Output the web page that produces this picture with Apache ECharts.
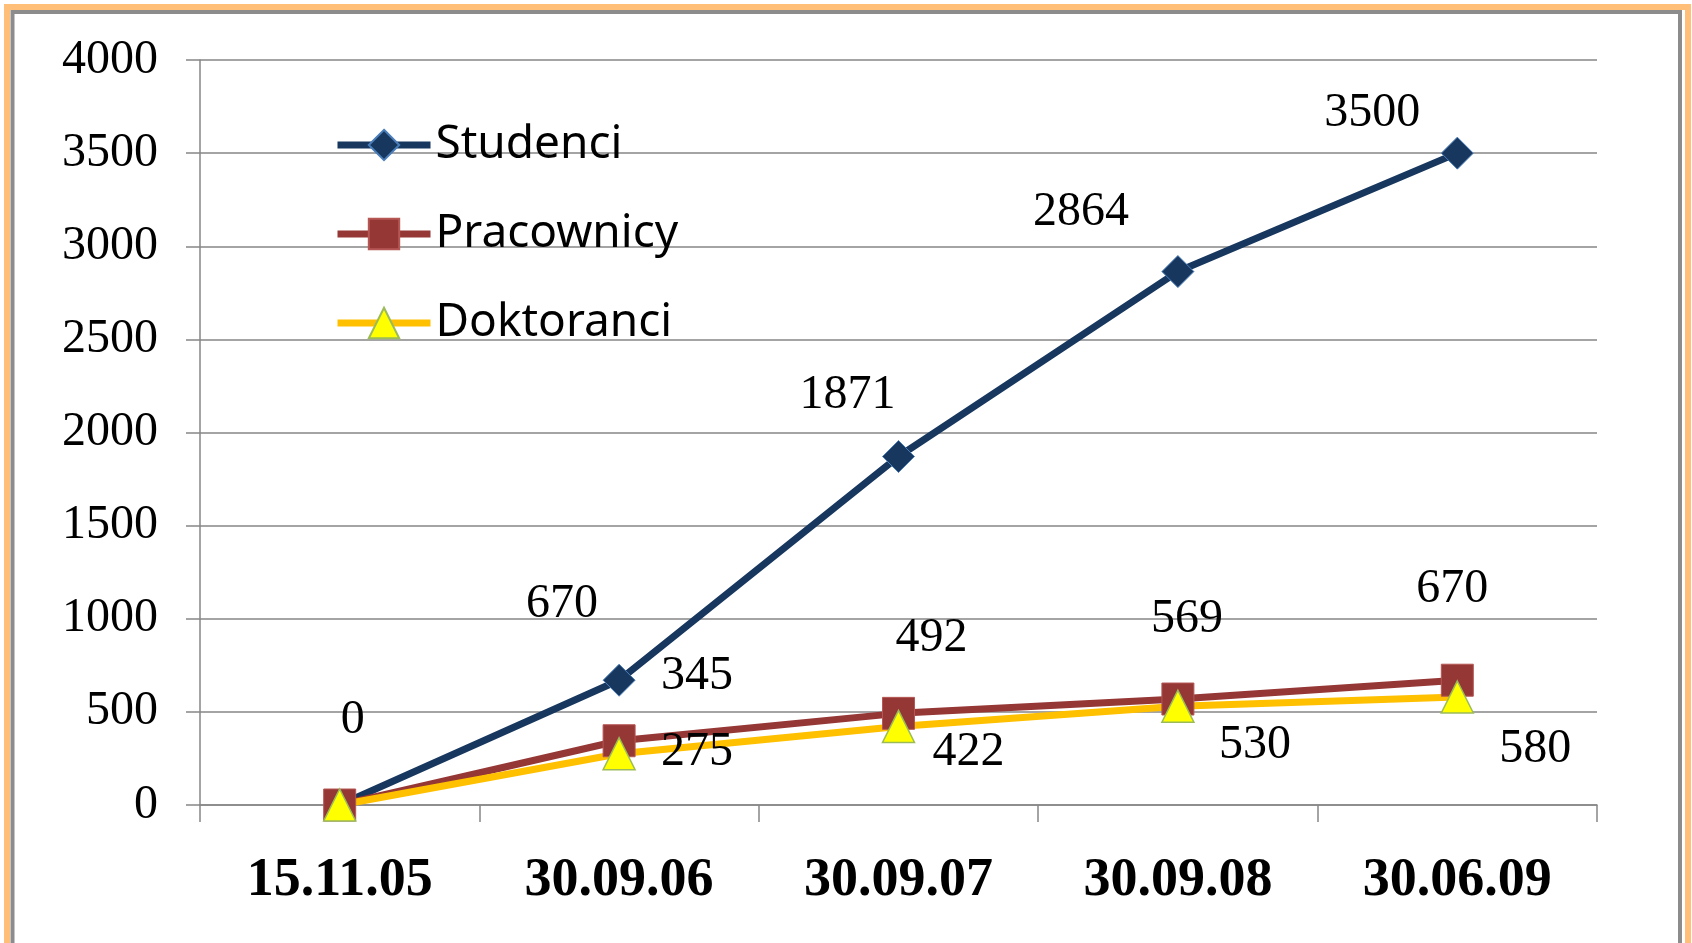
<!DOCTYPE html>
<html>
<head>
<meta charset="utf-8">
<script src="https://cdn.jsdelivr.net/npm/echarts@6/dist/echarts.min.js"></script>
<style>
html,body{margin:0;padding:0;background:#fff;}
#chart{width:1692px;height:943px;}
</style>
</head>
<body>
<div id="chart"></div>
<script>
const categories = ['15.11.05', '30.09.06', '30.09.07', '30.09.08', '30.06.09'];
const studenci = [0, 670, 1871, 2864, 3500];
const pracownicy = [0, 345, 492, 569, 670];
const doktoranci = [0, 275, 422, 530, 580];
const yTicks = [0, 500, 1000, 1500, 2000, 2500, 3000, 3500, 4000];

// label offsets (layout only)
const offStud = [[13,-85],[-57,-76],[-51,-61],[-97,-59],[-85,-40]];
const offPrac = [null,[78,-64],[33,-75],[9,-80],[-5,-91]];
const offDokt = [null,[78,-1],[70,26],[77,39],[78,52]];

const serif = '"Liberation Serif", "Times New Roman", serif';
const labelBase = {fontFamily: serif, fontSize: 48, color: '#000'};

function mk(values, offs) {
  return values.map((v, i) => {
    const o = offs[i];
    if (!o) return {value: v, label: {show: false}};
    return {value: v, label: Object.assign({show: true, position: 'inside', offset: o, formatter: '{c}'}, labelBase)};
  });
}

const chart = echarts.init(document.getElementById('chart'));
chart.setOption({
  animation: false,
  backgroundColor: '#fff',
  graphic: [
    {type: 'rect', shape: {x: 7, y: 7, width: 1681, height: 1000}, style: {fill: null, stroke: '#FFBF78', lineWidth: 6}, silent: true},
    {type: 'rect', shape: {x: 12.5, y: 12, width: 1667.5, height: 1000}, style: {fill: null, stroke: '#8C8C8C', lineWidth: 4}, silent: true}
  ],
  legend: {
    orient: 'vertical',
    left: 329,
    top: 117,
    itemWidth: 93,
    itemHeight: 38,
    itemGap: 43,
    lineStyle: {width: 7},
    textStyle: {fontFamily: '"Noto Sans", "Open Sans", sans-serif', fontSize: 46, color: '#000', lineHeight: 38},
    data: ['Studenci', 'Pracownicy', 'Doktoranci']
  },
  grid: {left: 200, right: 95, top: 60, bottom: 138},
  xAxis: {
    type: 'category',
    data: categories,
    boundaryGap: true,
    axisLine: {lineStyle: {color: '#868686', width: 1.5}},
    axisTick: {show: true, length: 17, lineStyle: {color: '#868686', width: 1.5}},
    axisLabel: {fontFamily: serif, fontSize: 54, fontWeight: 'bold', color: '#000', margin: 49}
  },
  yAxis: {
    type: 'value',
    min: 0, max: 4000, interval: 500,
    axisLine: {show: true, lineStyle: {color: '#868686', width: 1.5}},
    axisTick: {show: true, length: 14, lineStyle: {color: '#868686', width: 1.5}},
    splitLine: {lineStyle: {color: '#868686', width: 1.5}},
    axisLabel: {fontFamily: serif, fontSize: 48, color: '#000', margin: 42,
      formatter: v => yTicks.includes(v) ? String(v) : ''}
  },
  series: [
    {name: 'Studenci', type: 'line', data: mk(studenci, offStud),
     symbol: 'diamond', symbolSize: 32,
     lineStyle: {color: '#17375E', width: 7},
     itemStyle: {color: '#17375E', borderColor: '#4A7EBB', borderWidth: 1}},
    {name: 'Pracownicy', type: 'line', data: mk(pracownicy, offPrac),
     symbol: 'rect', symbolSize: 32,
     lineStyle: {color: '#953735', width: 7},
     itemStyle: {color: '#953735', borderColor: '#B65755', borderWidth: 1}},
    {name: 'Doktoranci', type: 'line', data: mk(doktoranci, offDokt),
     symbol: 'triangle', symbolSize: 32,
     lineStyle: {color: '#FFC000', width: 7},
     itemStyle: {color: '#FFFF00', borderColor: '#9BBB59', borderWidth: 1.5}}
  ]
});
</script>
</body>
</html>
